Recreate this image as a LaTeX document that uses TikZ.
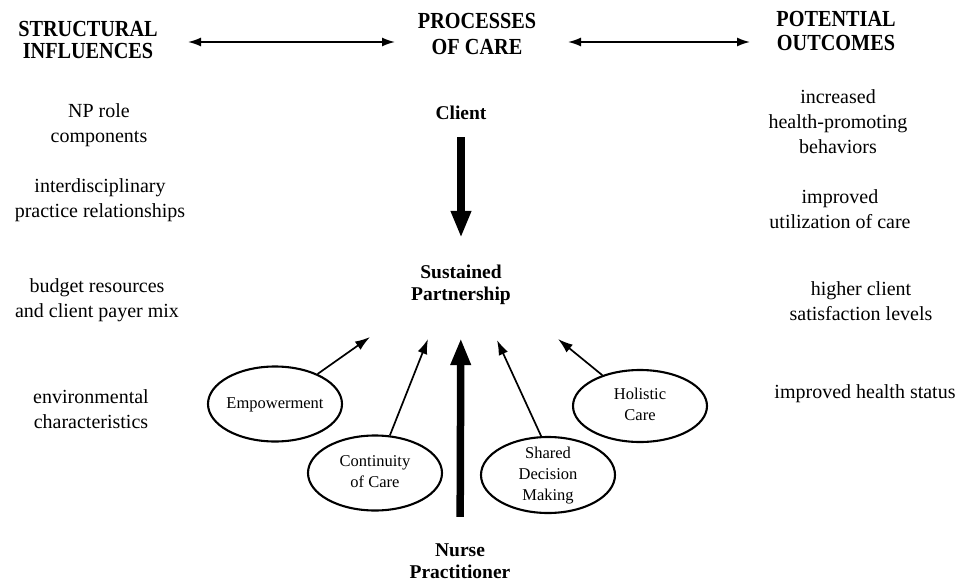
\documentclass[tikz,border=0pt]{standalone}
\usepackage{fontspec}
\setmainfont{Liberation Serif}
\usepackage{graphicx}
\usetikzlibrary{arrows.meta,shapes.geometric}
\newcommand{\mltext}[1]{\begin{tabular}[t]{@{}c@{}}#1\end{tabular}}
\tikzset{
 bodytext/.style={inner sep=0pt, anchor=base, font=\fontsize{20}{25}\selectfont},
 boldtext/.style={inner sep=0pt, anchor=base, font=\fontsize{19.5}{22.5}\selectfont\bfseries},
 headtext/.style={inner sep=0pt, anchor=base, font=\fontsize{23}{21}\selectfont\bfseries},
 ovalbox/.style={draw, ellipse, line width=2.1pt, minimum width=134pt, minimum height=75pt, inner sep=0pt},
 ovaltext/.style={inner sep=0pt, font=\fontsize{16.5}{21}\selectfont},
 thinarrow/.style={-{Latex[length=15pt,width=10pt]}, line width=1.7pt},
 thickarrow/.style={-{Triangle[length=27pt,width=19pt]}, line width=7.5pt},
 harrow/.style={{Latex[length=13pt,width=9pt]}-{Latex[length=13pt,width=9pt]}, line width=1.6pt},
}
\begin{document}
\begin{tikzpicture}[x=1pt,y=-1pt]
\useasboundingbox (0,0) rectangle (963,586);
% headers
\node[headtext] (si) at (88,37) {\scalebox{0.88}[1]{\mltext{STRUCTURAL\\INFLUENCES}}};
\node[headtext] (pc) at (477,29) {\scalebox{0.88}[1]{\mltext{PROCESSES\\[4pt]OF CARE}}};
\node[headtext] (po) at (836,27) {\scalebox{0.88}[1]{\mltext{POTENTIAL\\[2pt]OUTCOMES}}};
\coordinate (a1) at (188,42);
\coordinate (a2) at (395,42);
\coordinate (a3) at (568,42);
\coordinate (a4) at (750,42);
\draw[harrow] (a1) -- (a2);
\draw[harrow] (a3) -- (a4);
% left column
\node[bodytext] (np) at (99,117) {\mltext{NP role\\components}};
\node[bodytext] (ip) at (100,192) {\mltext{interdisciplinary\\practice relationships}};
\node[bodytext] (br) at (97,292) {\mltext{budget resources\\and client payer mix}};
\node[bodytext] (ec) at (91,403) {\mltext{environmental\\characteristics}};
% right column
\node[bodytext] (hp) at (838,103) {\mltext{increased\\health-promoting\\behaviors}};
\node[bodytext] (uc) at (840,203) {\mltext{improved\\utilization of care}};
\node[bodytext] (cs) at (861,295) {\mltext{higher client\\satisfaction levels}};
\node[bodytext] (hs) at (865,398) {\mltext{improved health status}};
% center
\node[boldtext] (client) at (461,119) {\mltext{Client}};
\node[boldtext] (sp) at (461,278) {\mltext{Sustained\\Partnership}};
\node[boldtext] (nurse) at (460,556) {\mltext{Nurse\\Practitioner}};
\draw[thickarrow, shorten <=11.25pt, shorten >=24.25pt] (client) -- (sp);
\draw[thickarrow, shorten <=23.25pt, shorten >=30.75pt] (nurse) -- (sp);
% ellipses
\node[ovalbox, label={[ovaltext]center:{\mltext{Empowerment}}}] (emp) at (275,404) {};
\node[ovalbox, label={[ovaltext]center:{\mltext{Continuity\\of Care}}}] (coc) at (375,473) {};
\node[ovalbox, minimum height=76pt, label={[ovaltext]center:{\mltext{Shared\\Decision\\Making}}}] (sdm) at (548,475) {};
\node[ovalbox, minimum height=72pt, label={[ovaltext]center:{\mltext{Holistic\\Care}}}] (hc) at (640,406) {};
\coordinate (t1) at (370,337);
\coordinate (t2) at (428,339);
\coordinate (t3) at (497,340);
\coordinate (t4) at (558,339);
\draw[thinarrow] (emp) -- (t1);
\draw[thinarrow] (coc) -- (t2);
\draw[thinarrow] (sdm.100) -- (t3);
\draw[thinarrow] (hc) -- (t4);
\end{tikzpicture}
\end{document}
